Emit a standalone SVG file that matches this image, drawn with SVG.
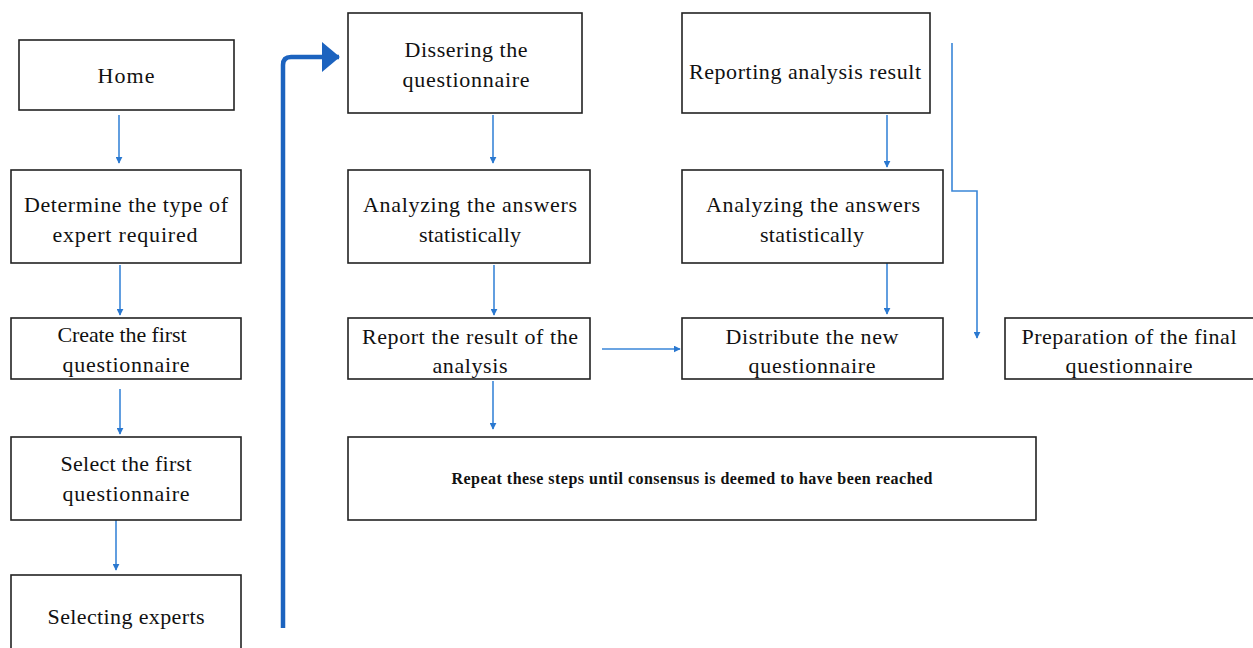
<svg xmlns="http://www.w3.org/2000/svg" width="1253" height="648" viewBox="0 0 1253 648">
<defs>
<style>
.box{fill:#fff;stroke:#222;stroke-width:1.6}
.t{font-family:"Liberation Serif","DejaVu Serif",serif;font-size:22px;fill:#111;text-anchor:middle}
.tb{font-family:"Liberation Serif","DejaVu Serif",serif;font-size:16px;font-weight:bold;fill:#111;text-anchor:middle}
.c{fill:none;stroke:#3a86d8;stroke-width:1.6}
</style>
<marker id="ah" viewBox="0 0 10 10" refX="9" refY="5" markerWidth="7" markerHeight="7" markerUnits="userSpaceOnUse" orient="auto">
<path d="M0,0 L10,5 L0,10 z" fill="#2a78d0"/>
</marker>
<marker id="ahb" viewBox="0 0 10 10" refX="9.5" refY="5" markerWidth="18" markerHeight="30" markerUnits="userSpaceOnUse" orient="auto" preserveAspectRatio="none">
<path d="M0,0 L10,5 L0,10 z" fill="#1c63bf"/>
</marker>
</defs>
<rect width="1253" height="648" fill="#fff"/>
<g id="connectors">
<path class="c" d="M119,115 V163" marker-end="url(#ah)"/>
<path class="c" d="M120,265 V315" marker-end="url(#ah)"/>
<path class="c" d="M120,389 V434" marker-end="url(#ah)"/>
<path class="c" d="M116,518 V570" marker-end="url(#ah)"/>
<path class="c" d="M493,115 V163" marker-end="url(#ah)"/>
<path class="c" d="M494,265 V315" marker-end="url(#ah)"/>
<path class="c" d="M493,381 V429" marker-end="url(#ah)"/>
<path class="c" d="M602,349 H680" marker-end="url(#ah)"/>
<path class="c" d="M887,115 V167" marker-end="url(#ah)"/>
<path class="c" d="M887,263 V314" marker-end="url(#ah)"/>
<path class="c" d="M952,43 V191 H977 V338" marker-end="url(#ah)"/>
<path d="M283,628 V65 Q283,57 291,57 H339" fill="none" stroke="#1c63bf" stroke-width="4.5" marker-end="url(#ahb)"/>
</g>
<g id="home"><rect class="box" x="19" y="40" width="215" height="70"/><text class="t" x="126" y="83" textLength="57">Home</text></g>
<g id="determine"><rect class="box" x="11" y="170" width="230" height="93"/><text class="t" x="126" y="212" textLength="204">Determine the type of</text><text class="t" x="125" y="242" textLength="145">expert required</text></g>
<g id="create"><rect class="box" x="11" y="318" width="230" height="61"/><text class="t" x="122" y="342" textLength="129">Create the first</text><text class="t" x="126" y="372" textLength="127">questionnaire</text></g>
<g id="select"><rect class="box" x="11" y="437" width="230" height="83"/><text class="t" x="126" y="471" textLength="131">Select the first</text><text class="t" x="126" y="501" textLength="127">questionnaire</text></g>
<g id="selecting"><rect class="box" x="11" y="575" width="230" height="80"/><text class="t" x="126" y="624" textLength="157">Selecting experts</text></g>
<g id="dissering"><rect class="box" x="348" y="13" width="234" height="100"/><text class="t" x="466" y="57" textLength="123">Dissering the</text><text class="t" x="466" y="87" textLength="127">questionnaire</text></g>
<g id="analyzing1"><rect class="box" x="348" y="170" width="242" height="93"/><text class="t" x="470" y="212" textLength="214">Analyzing the answers</text><text class="t" x="470" y="242" textLength="102">statistically</text></g>
<g id="report"><rect class="box" x="348" y="318" width="242" height="61"/><text class="t" x="470" y="344" textLength="216">Report the result of the</text><text class="t" x="470" y="373" textLength="75">analysis</text></g>
<g id="repeat"><rect class="box" x="348" y="437" width="688" height="83"/><text class="tb" x="692" y="484" textLength="481">Repeat these steps until consensus is deemed to have been reached</text></g>
<g id="reporting"><rect class="box" x="682" y="13" width="248" height="100"/><text class="t" x="805" y="79" textLength="232">Reporting analysis result</text></g>
<g id="analyzing2"><rect class="box" x="682" y="170" width="261" height="93"/><text class="t" x="813" y="212" textLength="214">Analyzing the answers</text><text class="t" x="812" y="242" textLength="104">statistically</text></g>
<g id="distribute"><rect class="box" x="682" y="318" width="261" height="61"/><text class="t" x="812" y="344" textLength="173">Distribute the new</text><text class="t" x="812" y="373" textLength="127">questionnaire</text></g>
<g id="preparation"><rect class="box" x="1005" y="318" width="260" height="61"/><text class="t" x="1129" y="344" textLength="215">Preparation of the final</text><text class="t" x="1129" y="373" textLength="127">questionnaire</text></g>
</svg>
